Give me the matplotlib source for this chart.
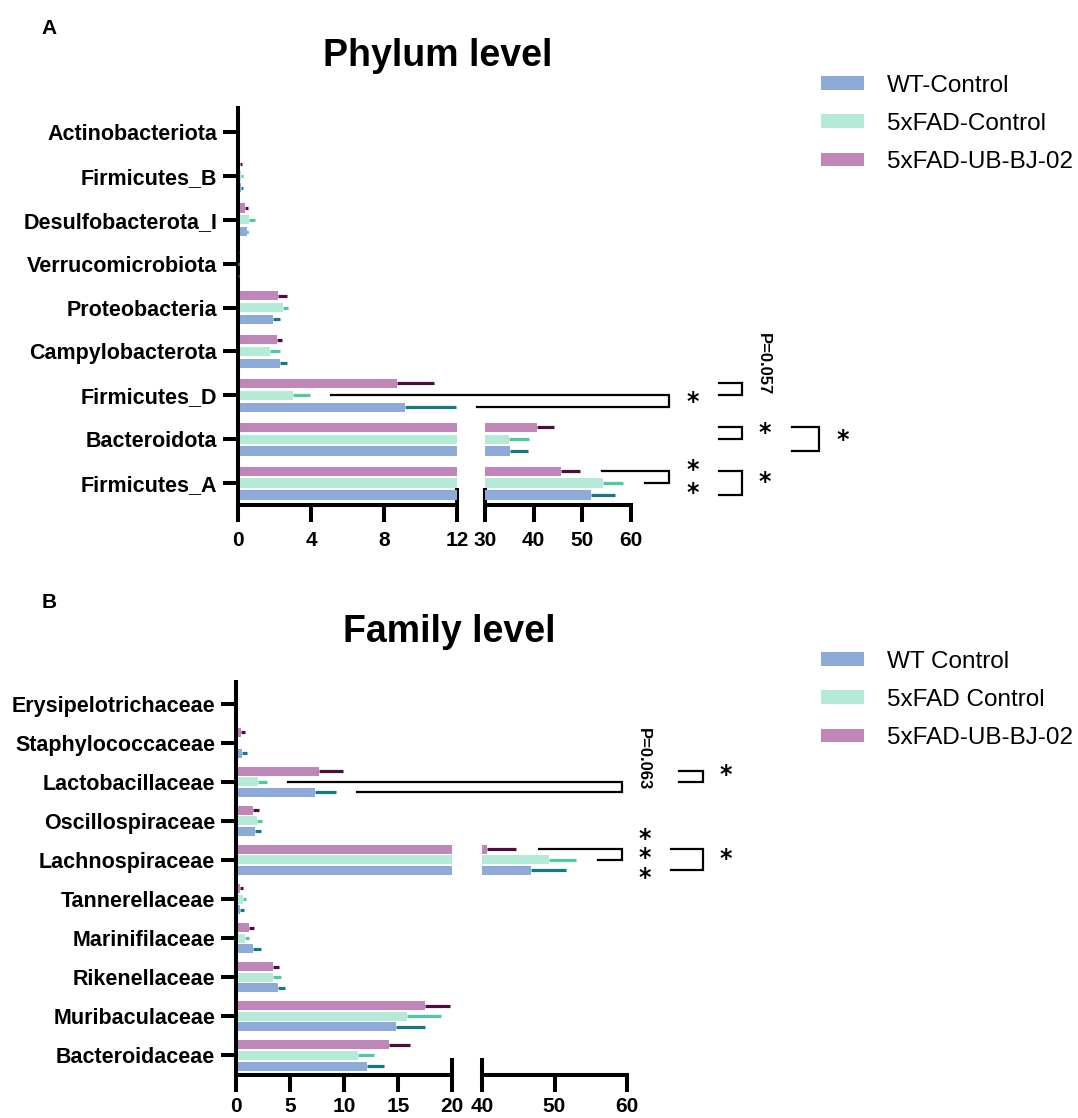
import matplotlib
matplotlib.use("Agg")
import matplotlib.pyplot as plt
from matplotlib.patches import Patch
from matplotlib.lines import Line2D
import numpy as np

plt.rcParams['font.family'] = ['Liberation Sans', 'DejaVu Sans']

# ---------------- data ----------------
groups_A = ["WT-Control", "5xFAD-Control", "5xFAD-UB-BJ-02"]
groups_B = ["WT Control", "5xFAD Control", "5xFAD-UB-BJ-02"]

phyla = ["Firmicutes_A", "Bacteroidota", "Firmicutes_D", "Campylobacterota",
         "Proteobacteria", "Verrucomicrobiota", "Desulfobacterota_I",
         "Firmicutes_B", "Actinobacteriota"]
phy_wt_mean = [51.8, 35.1, 9.15, 2.29, 1.92, 0.02, 0.50, 0.15, 0.05]
phy_wt_err = [4.9, 3.7, 2.80, 0.37, 0.37, 0.02, 0.05, 0.12, 0.03]
phy_fad_mean = [54.2, 35.0, 2.99, 1.75, 2.44, 0.02, 0.63, 0.15, 0.05]
phy_fad_err = [4.1, 4.1, 0.96, 0.54, 0.29, 0.02, 0.29, 0.12, 0.03]
phy_ub_mean = [45.6, 40.7, 8.71, 2.12, 2.21, 0.02, 0.40, 0.10, 0.05]
phy_ub_err = [4.0, 3.5, 2.03, 0.28, 0.45, 0.02, 0.13, 0.12, 0.03]

families = ["Bacteroidaceae", "Muribaculaceae", "Rikenellaceae", "Marinifilaceae",
            "Tannerellaceae", "Lachnospiraceae", "Oscillospiraceae",
            "Lactobacillaceae", "Staphylococcaceae", "Erysipelotrichaceae"]
fam_wt_mean = [12.1, 14.8, 3.90, 1.60, 0.40, 46.7, 1.73, 7.27, 0.52, 0.05]
fam_wt_err = [1.6, 2.7, 0.66, 0.68, 0.31, 4.9, 0.55, 1.97, 0.47, 0.03]
fam_fad_mean = [11.25, 15.8, 3.39, 0.83, 0.68, 49.2, 1.97, 2.00, 0.05, 0.05]
fam_fad_err = [1.5, 3.2, 0.74, 0.34, 0.22, 3.8, 0.46, 0.90, 0.03, 0.03]
fam_ub_mean = [14.2, 17.5, 3.45, 1.23, 0.37, 40.7, 1.60, 7.70, 0.43, 0.05]
fam_ub_err = [1.9, 2.3, 0.55, 0.43, 0.25, 4.0, 0.50, 2.20, 0.40, 0.03]

bar_colors = ["#8eaad8", "#b6ead8", "#bf86b9"]
err_colors = ["#167786", "#4fc9a2", "#4e0b3c"]

W, H = 1078, 1118
fig = plt.figure(figsize=(W / 100, H / 100), dpi=100)

def rect(x0, x1, ytop, ybot):
    return [x0 / W, 1 - ybot / H, (x1 - x0) / W, (ybot - ytop) / H]

LW = 2.9
OFF = 0.27

def draw_panel(axL, axR, cats, means, errs, hgt, lim_left, lim_right,
               ticks_left, cap_left, cap_right, ticks_right, tpad):
    y = np.arange(len(cats))
    offs = [-OFF, 0, OFF]
    for ax in (axL, axR):
        for g in range(3):
            ax.barh(y + offs[g], means[g], height=hgt, color=bar_colors[g],
                    edgecolor='none', zorder=2)
            ax.errorbar(means[g], y + offs[g],
                        xerr=[np.zeros(len(cats)), errs[g]],
                        fmt='none', ecolor=err_colors[g], elinewidth=2.3,
                        capsize=0, zorder=3)
    for ax, lim in ((axL, lim_left), (axR, lim_right)):
        ax.set_xlim(*lim)
        ax.set_ylim(-0.5, len(cats) - 0.45)
        for s in ('top', 'right'):
            ax.spines[s].set_visible(False)
        ax.spines['bottom'].set_linewidth(LW)
        ax.spines['left'].set_linewidth(LW)
        ax.tick_params(axis='x', which='major', direction='out', length=12,
                       width=LW, labelsize=15, pad=tpad)
        ax.tick_params(axis='x', which='minor', direction='inout', length=24,
                       width=LW, labelsize=15, pad=tpad)
        ax.patch.set_alpha(0)
    axL.set_yticks(y)
    axL.set_yticklabels(cats, fontsize=15.5, fontweight='bold')
    axL.tick_params(axis='y', direction='out', length=11, width=LW, pad=4)
    axL.set_xticks(ticks_left)
    axL.set_xticks([cap_left], minor=True)
    axL.set_xticklabels([str(cap_left)], minor=True, fontweight='bold', fontsize=15)
    axR.set_xticks(ticks_right)
    axR.set_xticks([cap_right], minor=True)
    axR.set_xticklabels([str(cap_right)], minor=True, fontweight='bold', fontsize=15)
    for ax in (axL, axR):
        for lab in ax.get_xticklabels():
            lab.set_fontweight('bold')
    axR.spines['left'].set_visible(False)
    axR.set_yticks([])

# ---------- Panel A ----------
axA = fig.add_axes(rect(238, 457, 108, 505))
axA2 = fig.add_axes(rect(485, 631, 108, 505))
draw_panel(axA, axA2, phyla,
           [phy_wt_mean, phy_fad_mean, phy_ub_mean],
           [phy_wt_err, phy_fad_err, phy_ub_err], 0.21,
           (0, 12), (30, 60), [0, 4, 8], 12, 30, [40, 50, 60], 7)

# ---------- Panel B ----------
axB = fig.add_axes(rect(236, 452, 682, 1075))
axB2 = fig.add_axes(rect(482, 627, 682, 1075))
draw_panel(axB, axB2, families,
           [fam_wt_mean, fam_fad_mean, fam_ub_mean],
           [fam_wt_err, fam_fad_err, fam_ub_err], 0.23,
           (0, 20), (40, 60), [0, 5, 10, 15], 20, 40, [50, 60], 3.5)

# ---------- brackets & annotations ----------
inv = fig.transFigure.inverted()

def P(ax, x, y):
    return inv.transform(ax.transData.transform((x, y)))

def polyline(pts):
    xs = [p[0] for p in pts]
    ys = [p[1] for p in pts]
    fig.add_artist(Line2D(xs, ys, transform=fig.transFigure, color='black',
                          lw=1.6, solid_joinstyle='miter', zorder=5))

def star(ax, x, y, n=1, spacing=1.0, size=17):
    fx, fy = P(ax, x, y)
    fig.text(fx, fy, "\n".join(["*"] * n), fontsize=size, fontweight='bold',
             ha='center', va='center', family='DejaVu Sans',
             linespacing=spacing, multialignment='center')

def ptext(ax, x, y, s):
    fx, fy = P(ax, x, y)
    fig.text(fx, fy, s, fontsize=12, fontweight='bold', rotation=270,
             ha='center', va='center')

def bracket(ax_v, xv, top, bot):
    a1, x1, y1 = top
    a2, x2, y2 = bot
    yv1 = P(a1, 0, y1)[1]
    yv2 = P(a2, 0, y2)[1]
    xvf = P(ax_v, xv, 0)[0]
    polyline([P(a1, x1, y1), (xvf, yv1), (xvf, yv2), P(a2, x2, y2)])

# Phylum: Firmicutes_D (index 2)
bracket(axA2, 67.8, (axA, 5.1, 2), (axA2, 28.3, 2 - OFF))
star(axA2, 72.6, 1.84)
bracket(axA2, 82.8, (axA2, 78.1, 2 + OFF), (axA2, 78.1, 2))
ptext(axA2, 87.3, 2.7, "P=0.057")
# Bacteroidota (index 1)
bracket(axA2, 82.8, (axA2, 78.1, 1 + OFF), (axA2, 78.1, 1))
star(axA2, 87.4, 1.14)
bracket(axA2, 98.6, (axA2, 93.0, 1 + OFF), (axA2, 93.0, 1 - OFF))
star(axA2, 103.5, 0.98)
# Firmicutes_A (index 0)
bracket(axA2, 67.8, (axA2, 54.1, OFF), (axA2, 62.9, 0))
star(axA2, 72.6, 0.03, n=2, spacing=0.95)
bracket(axA2, 82.8, (axA2, 78.1, OFF), (axA2, 78.1, -OFF))
star(axA2, 87.4, 0.03)

# Family: Lactobacillaceae (index 7)
bracket(axB2, 59.3, (axB, 4.85, 7), (axB, 11.2, 7 - OFF))
ptext(axB2, 62.2, 7.58, "P=0.063")
bracket(axB2, 70.5, (axB2, 67.2, 7 + OFF), (axB2, 67.2, 7))
star(axB2, 73.6, 7.17)
# Lachnospiraceae (index 5)
bracket(axB2, 59.3, (axB2, 47.9, 5 + OFF), (axB2, 56.0, 5))
star(axB2, 62.5, 5.04, n=3, spacing=0.78)
bracket(axB2, 70.5, (axB2, 66.1, 5 + OFF), (axB2, 66.1, 5 - OFF))
star(axB2, 73.6, 5.02)

# ---------- titles, panel letters ----------
fig.text(438 / W, 1 - 56 / H, "Phylum level", fontsize=27, fontweight='bold',
         ha='center', va='center')
fig.text(449 / W, 1 - 632 / H, "Family level", fontsize=27, fontweight='bold',
         ha='center', va='center')
fig.text(49 / W, 1 - 28 / H, "A", fontsize=15, fontweight='bold',
         ha='center', va='center')
fig.text(49 / W, 1 - 603 / H, "B", fontsize=15, fontweight='bold',
         ha='center', va='center')

# ---------- legends ----------
def legend(labels, x, ytop):
    handles = [Patch(facecolor=c, edgecolor='none') for c in bar_colors]
    fig.legend(handles, labels, loc='upper left',
               bbox_to_anchor=(x / W, 1 - ytop / H), frameon=False,
               fontsize=17.5, handlelength=1.75, handleheight=0.5,
               handletextpad=0.95, labelspacing=0.66, borderaxespad=0,
               borderpad=0)

legend(groups_A, 821, 75)
legend(groups_B, 821, 651)

fig.savefig("out.png", dpi=100)
